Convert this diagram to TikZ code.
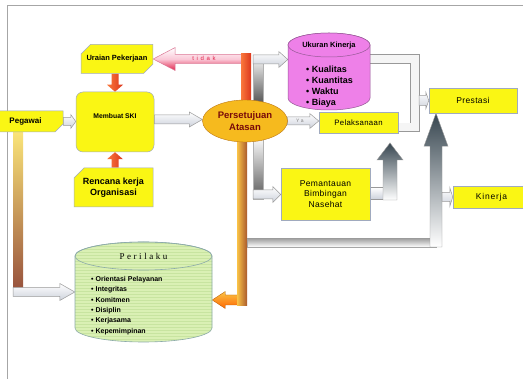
\documentclass[tikz,border=0pt]{standalone}
\usepackage{fontspec}
\setmainfont{Liberation Sans}
\newfontfamily\serifp[LetterSpace=28]{Liberation Serif}
\newfontfamily\spsans[LetterSpace=4]{Liberation Sans}
\newfontfamily\kinfont[LetterSpace=9]{Liberation Sans}
\newfontfamily\tidakfont[LetterSpace=45]{Liberation Sans}
\usetikzlibrary{calc,shapes.geometric,shapes.misc}
\pgfdeclarelayer{bg}
\pgfsetlayers{bg,main}
\newcommand\fs[2]{\fontsize{#1}{#2}\selectfont}
% block arrow: style, from, to, shaft half width, head half width, head length
\newcommand\blk[6]{%
 \coordinate (bkH) at ($(#3)!#6!(#2)$);
 \path[#1] ($(#2)!#4!90:(#3)$) -- ($(bkH)!#4!-90:(#2)$) -- ($(bkH)!#5!-90:(#2)$) -- (#3) -- ($(bkH)!#5!90:(#2)$) -- ($(bkH)!#4!90:(#2)$) -- ($(#2)!#4!-90:(#3)$) -- cycle;}
% cylinder: cx, top y, bottom y, rx, ry, style
\newcommand\cylpath[5]{({#1-#4},#2) -- ({#1-#4},#3) arc[start angle=180,end angle=360,x radius=#4pt,y radius=#5pt] -- ({#1+#4},#2) arc[start angle=0,end angle=180,x radius=#4pt,y radius=#5pt] -- cycle}
\newcommand\cyl[6]{%
 \path[#6] \cylpath{#1}{#2}{#3}{#4}{#5};
 \path[#6] (#1,#2) ellipse[x radius=#4pt,y radius=#5pt];}
\definecolor{yel}{RGB}{250,246,20}
\definecolor{boxline}{RGB}{160,170,190}
\definecolor{gold}{RGB}{246,186,30}
\definecolor{goldline}{RGB}{190,120,20}
\definecolor{txtred}{RGB}{120,10,10}
\definecolor{pinkc}{RGB}{238,128,232}
\definecolor{pinkline}{RGB}{150,90,150}
\definecolor{greenc}{RGB}{218,240,180}
\definecolor{greenstripe}{RGB}{200,228,160}
\definecolor{greenline}{RGB}{140,170,170}
\definecolor{redarrL}{RGB}{250,120,60}
\definecolor{redarrR}{RGB}{220,55,30}
\definecolor{darkarr}{RGB}{55,70,80}
\definecolor{orangeL}{RGB}{250,195,70}
\definecolor{orangeR}{RGB}{170,90,45}
\definecolor{hollowgray}{RGB}{205,210,220}
\definecolor{tidakred}{RGB}{225,35,75}
\definecolor{tidakmid}{RGB}{250,200,215}
\definecolor{tidakline}{RGB}{220,120,150}
\definecolor{pegtop}{RGB}{250,228,120}
\definecolor{pegbot}{RGB}{150,80,60}
\begin{document}
\begin{tikzpicture}[x=1pt,y=-1pt,
 ybox/.style={fill=yel, draw=boxline, line width=0.5pt, inner sep=1pt},
 hollow/.style={top color=white, bottom color=hollowgray, draw=gray!80, line width=0.5pt},
 redarrow/.style={left color=redarrL, right color=redarrR, draw=none},
 darkarrow/.style={top color=darkarr, bottom color=white, draw=gray!80, line width=0.4pt},
 orangearrow/.style={top color=orangeL, bottom color=orange!80!red, draw=orange!70!black, line width=0.3pt},
 tidakarrow/.style={top color=white, bottom color=tidakred, middle color=tidakmid, draw=tidakline, line width=0.5pt},
 graybar/.style={top color=white, bottom color=black!65, draw=gray!60, line width=0.3pt},
 redbar/.style={left color=redarrL, right color=redarrR},
 orangebar/.style={left color=orangeL, right color=orangeR},
 pegbar/.style={top color=pegtop, bottom color=pegbot},
 bottombar/.style={top color=gray!70, bottom color=white, draw=gray!70, line width=0.4pt},
 pipe/.style={draw=gray!80, line width=0.7pt, double=white!92!gray, double distance=8pt},
 frameline/.style={draw=gray!70, line width=1pt}]
\useasboundingbox (0,0) rectangle (523,379);

% ---------- nodes ----------
\node[ybox, chamfered rectangle, chamfered rectangle corners={north west,south east},
 chamfered rectangle xsep=5pt, chamfered rectangle ysep=5pt,
 minimum width=70pt, minimum height=29pt, font=\bfseries\fs{7.5}{9}] (uraian) at (117,59) {Uraian Pekerjaan};
\node[ybox, rounded corners=7pt, minimum width=78pt, minimum height=60pt, text depth=12pt,
 font=\bfseries\fs{6.8}{8}] (membuat) at (115,122) {Membuat SKI};
\node[ybox, chamfered rectangle, chamfered rectangle corners=north west,
 chamfered rectangle xsep=5pt, chamfered rectangle ysep=5pt,
 minimum width=79pt, minimum height=39pt, align=center, font=\bfseries\fs{9}{10.5}] (rencana) at (113.5,187.5) {Rencana kerja\\Organisasi};
\node[ybox, chamfered rectangle, chamfered rectangle corners=south east,
 chamfered rectangle xsep=4pt, chamfered rectangle ysep=4pt,
 minimum width=75pt, minimum height=21pt, font=\bfseries\fs{8}{9}] (pegawai) at (25.5,121.5) {Pegawai};
\node[ellipse, fill=gold, draw=goldline, minimum width=85pt, minimum height=42pt, inner sep=0pt,
 align=center, text=txtred, font=\bfseries\fs{9.5}{12}] (persetujuan) at (245,121) {Persetujuan\\Atasan};
\node[ybox, minimum width=79pt, minimum height=21pt, font=\spsans\fs{7.8}{9}] (pelaksanaan) at (358.5,122.5) {Pelaksanaan};
\node[ybox, minimum width=88pt, minimum height=25pt, font=\spsans\fs{8.5}{10}] (prestasi) at (473,100.5) {Prestasi};
\node[ybox, minimum width=89pt, minimum height=52pt, align=center, font=\spsans\fs{8.5}{10.5}] (pemantauan) at (325.5,194) {Pemantauan\\Bimbingan\\Nasehat};
\node[ybox, minimum width=77pt, minimum height=22pt, font=\kinfont\fs{8.5}{10}] (kinerja) at (491.5,197) {Kinerja};

% Ukuran Kinerja cylinder
\node[inner sep=0pt, minimum width=82pt, minimum height=77pt] (ukuran) at (329,71.5) {};
\cyl{329}{45}{98}{41}{12}{fill=pinkc, draw=pinkline, line width=0.5pt}
\node[font=\bfseries\fs{7.5}{9}] (ukurantitle) at (329,46) {Ukuran Kinerja};
\node[anchor=north west, align=left, inner sep=0pt, font=\bfseries\fs{9}{11}] (ukuranlist) at (306,66) {• Kualitas\\• Kuantitas\\• Waktu\\• Biaya};

% Perilaku cylinder
\node[inner sep=0pt, minimum width=137pt, minimum height=100pt] (perilaku) at (143.5,292) {};
\cyl{143.5}{256}{328}{68.5}{14}{fill=greenc}
\begin{scope}
 \clip \cylpath{143.5}{256}{328}{68.5}{14};
 \foreach \yy in {243,246,...,344} \draw[greenstripe, line width=0.5pt] (70,\yy) -- (216,\yy);
\end{scope}
\cyl{143.5}{256}{328}{68.5}{14}{draw=greenline, line width=0.6pt}
\node[font=\serifp\fs{9}{10}] (perilakutitle) at (143.5,256) {Perilaku};
\node[anchor=north west, align=left, inner sep=0pt, font=\bfseries\fs{7}{10.4}] (perilakulist) at (91,276) {• Orientasi Pelayanan\\• Integritas\\• Komitmen\\• Disiplin\\• Kerjasama\\• Kepemimpinan};

% ---------- connectors ----------
\begin{pgfonlayer}{bg}
\fill[white] (0,0) rectangle (523,379);
\draw[frameline] (7,379) -- (7,6) -- (523,6);

% tidak
\coordinate (tk) at (246,59);
\blk{tidakarrow}{tk}{uraian.east}{4.5pt}{11.5pt}{22pt}
\node[font=\tidakfont\fs{6}{7}, text=tidakred] (tidaklbl) at (204,58) {tidak};
\shade[redbar] (241,54) rectangle (251,102);

% to Ukuran Kinerja
\shade[graybar] (253,55) rectangle (263,102);
\coordinate (ua) at (253,59.5);
\coordinate (ukin) at (ukuran.west |- ua);
\blk{hollow}{ua}{ukin}{4.5pt}{8pt}{9pt}

% Ya
\coordinate (ya) at (persetujuan.east);
\coordinate (yb) at (pelaksanaan.west |- ya);
\blk{hollow}{ya}{yb}{4pt}{7.5pt}{9pt}
\node[font=\fs{5}{6}, text=gray] (yalbl) at (300,121) {Y a};

% Pegawai -> Membuat
\coordinate (pga) at (pegawai.east);
\coordinate (pgb) at (membuat.west |- pga);
\blk{hollow}{pga}{pgb}{4pt}{7pt}{5pt}

% Membuat -> Persetujuan
\coordinate (ma) at ($(membuat.east)+(0,-2.5)$);
\coordinate (mb) at (persetujuan.west |- ma);
\blk{hollow}{ma}{mb}{4.5pt}{7.5pt}{13pt}

% red arrows into Membuat
\coordinate (ra) at (uraian.south -| membuat.north);
\blk{redarrow}{ra}{membuat.north}{3.5pt}{8pt}{7pt}
\coordinate (rb) at (rencana.north -| membuat.south);
\blk{redarrow}{rb}{membuat.south}{3.5pt}{8pt}{7pt}

% to Pemantauan
\shade[graybar] (253,136) rectangle (263,199);
\coordinate (pw) at (253,194.5);
\coordinate (pwb) at (pemantauan.west |- pw);
\blk{hollow}{pw}{pwb}{4.5pt}{8pt}{8pt}

% to Perilaku (orange)
\coordinate (ob) at (242,300);
\coordinate (obb) at (perilaku.east |- ob);
\blk{orangearrow}{ob}{obb}{5pt}{8.5pt}{13pt}
\shade[orangebar] (237,136) rectangle (247,306);

% bottom bar and Prestasi arrow
\shade[bottombar] (247,239) rectangle (436,247);
\coordinate (pb) at (436,247);
\coordinate (pbt) at (prestasi.south -| pb);
\blk{darkarrow}{pb}{pbt}{6pt}{12pt}{33pt}

% Kinerja
\coordinate (kn) at (442,197);
\coordinate (knb) at (kinerja.west |- kn);
\blk{hollow}{kn}{knb}{4.5pt}{9.5pt}{3pt}

% Pemantauan -> Pelaksanaan
\coordinate (t187) at (0,187.5);
\coordinate (pmc) at (pemantauan.east |- t187);
\path[hollow] (pmc) rectangle (385,199);
\coordinate (pm1) at (390,200);
\coordinate (pm2) at (390,143);
\blk{darkarrow}{pm1}{pm2}{7pt}{13pt}{17pt}

% bracket Ukuran/Pelaksanaan -> Prestasi
\coordinate (bk1) at (415,59);
\coordinate (bk2) at (415,127.5);
\draw[pipe] (ukuran.east |- bk1) -- (bk1) -- (bk2) -- (pelaksanaan.east |- bk2);
\coordinate (ps) at (419,100.5);
\coordinate (psb) at (prestasi.west |- ps);
\blk{hollow}{ps}{psb}{5pt}{8.5pt}{3pt}

% Pegawai -> Perilaku
\shade[pegbar] (13,132) rectangle (23,292);
\coordinate (pg1) at (13,292);
\coordinate (pg2) at (perilaku.west |- pg1);
\blk{hollow}{pg1}{pg2}{4.5pt}{8.5pt}{15pt}
\end{pgfonlayer}
\end{tikzpicture}
\end{document}
